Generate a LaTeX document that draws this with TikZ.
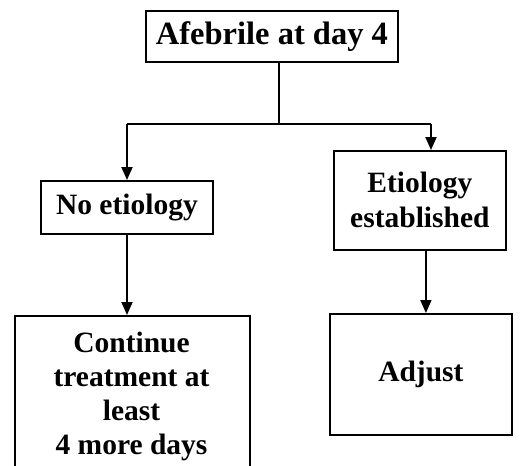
\documentclass[tikz,border=0pt]{standalone}
\usepackage{fontspec}
\setmainfont{Liberation Serif}
\usetikzlibrary{arrows.meta,calc}
\begin{document}
\begin{tikzpicture}[x=1pt,y=1pt,
  box/.style={draw, line width=1.8pt, inner sep=0pt, align=center, anchor=north west,
    font=\fontsize{29.5}{35}\selectfont\bfseries},
  link/.style={line width=1.8pt},
  arrow/.style={line width=1.8pt, -{Triangle[length=13pt,width=11pt]}}]
\useasboundingbox (0,0) rectangle (531,-466);
\clip (0,0) rectangle (531,-466);
\node[box, minimum width=252pt, minimum height=51pt, font=\fontsize{32.5}{38}\selectfont\bfseries] (top) at (145,-10) {Afebrile at day 4};
\node[box, minimum width=172pt, minimum height=53pt] (noet) at (40,-180) {No etiology};
\node[box, minimum width=172pt, minimum height=99pt] (etio) at (333,-150) {Etiology\\established};
\node[box, minimum width=235pt, minimum height=175pt] (cont) at (14,-315) {};
\node[anchor=north, align=center, inner sep=0pt, font=\fontsize{29.5}{34}\selectfont\bfseries] (conttext) at (131.5,-332) {Continue\\treatment at\\least\\4 more days};
\node[box, minimum width=182pt, minimum height=121pt] (adj) at (329,-313) {Adjust};
\coordinate (j) at (279,-124);
\coordinate (jl) at (127,-124);
\coordinate (jr) at (431,-124);
\draw[link] (j |- top.south) -- (j);
\draw[link] (jl) -- (jr);
\draw[arrow] (jl) -- (jl |- noet.north);
\draw[arrow] (jr) -- (jr |- etio.north);
\draw[arrow] (jl |- noet.south) -- (jl |- cont.north);
\draw[arrow] ([xshift=6pt]etio.south) -- ([xshift=6pt]etio.south |- adj.north);
\end{tikzpicture}
\end{document}
